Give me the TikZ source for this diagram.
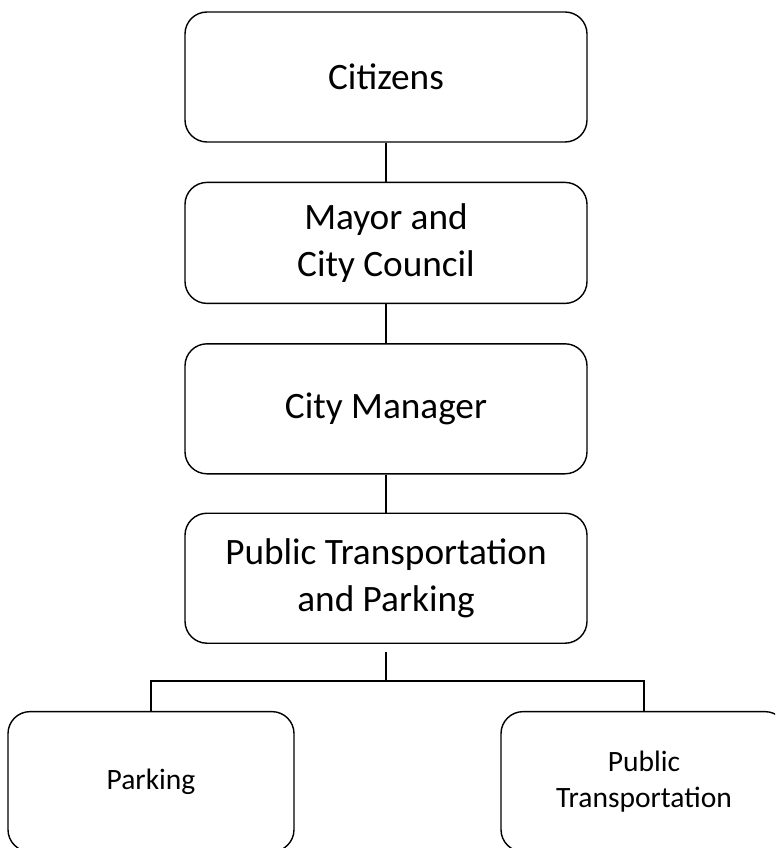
\documentclass[tikz,border=0pt]{standalone}
\usepackage{fontspec}
\setmainfont{Carlito}
\usepackage{tikz}
\usetikzlibrary{positioning}

\begin{document}
\begin{tikzpicture}[
    line width=1pt,
    office/.style={draw, rounded corners=0.55cm, minimum width=10.05cm, minimum height=3.25cm, align=center, font=\fontsize{26.5}{33}\selectfont},
    branch/.style={draw, rounded corners=0.55cm, minimum width=7.15cm, minimum height=3.5cm, align=center, font=\fontsize{21}{25}\selectfont}
]
\useasboundingbox (0,0) rectangle (19.375,-21.2);
\clip (0,0) rectangle (19.375,-21.2);

% Chain of offices
\node[office] (Citizens) at (9.65,-1.925) {Citizens};
\node[office, minimum height=3.025cm, below=0.975cm of Citizens] (Mayor) {Mayor and\\ City Council};
\node[office, below=0.975cm of Mayor] (Manager) {City Manager};
\node[office, below=0.95cm of Manager] (Transport) {Public Transportation\\ and Parking};

% Divisions
\node[branch, below=1.675cm of Transport, xshift=-5.875cm] (Parking) {Parking};
\node[branch, below=1.675cm of Transport, xshift=6.45cm] (Transit) {Public\\ Transportation};

% Connections
\draw (Citizens) -- (Mayor);
\draw (Mayor) -- (Manager);
\draw (Manager) -- (Transport);
\coordinate (hub) at ([yshift=-0.925cm]Transport.south);
\draw ([yshift=-0.2cm]Transport.south) -- (hub);
\draw (Parking.north) |- (hub) -| (Transit.north);

\end{tikzpicture}
\end{document}
